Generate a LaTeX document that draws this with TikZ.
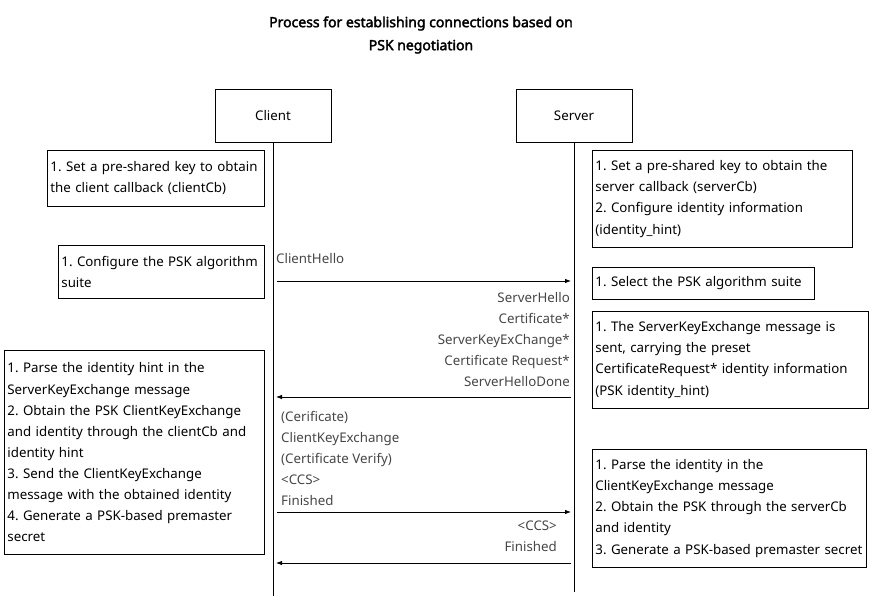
\documentclass[tikz,border=0pt]{standalone}
\usepackage{fontspec}
\setmainfont{Noto Sans}
\newfontfamily\titlefont{Noto Sans}[FakeBold=2.5]
\usetikzlibrary{arrows.meta}
\definecolor{msg}{RGB}{70,70,70}
\newcommand{\fs}{\fontsize{13.3}{21.1}\selectfont\frenchspacing}
\tikzset{
  box/.style={draw, line width=0.8pt, anchor=north west, inner xsep=3pt, inner ysep=0pt, align=left, font=\fs},
  actor/.style={draw, line width=0.8pt, minimum width=116pt, minimum height=53pt, font=\fs},
  lbl/.style={font=\fs, text=msg, inner sep=0pt},
  life/.style={line width=0.8pt},
  msgarrow/.style={line width=0.8pt, -{Latex[length=6pt,width=4.5pt]}}
}
\begin{document}
\begin{tikzpicture}[x=1pt,y=-1pt]
\useasboundingbox (0,0) rectangle (872,596);
\node[font=\titlefont\fontsize{14}{23}\selectfont, align=center] (title) at (421,35) {Process for establishing connections based on\\PSK negotiation};
\node[actor] (client) at (273,115.5) {Client};
\node[actor] (server) at (574,115.5) {Server};
\coordinate (cend) at (273,596);
\coordinate (send) at (574,592);
\draw[life] (client.south) -- (cend);
\draw[life] (server.south) -- (send);

\node[box, text width=211pt, minimum height=56pt] (c1) at (47,150) {1. Set a pre-shared key to obtain\\the client callback (clientCb)};
\node[box, text width=200pt, minimum height=53pt] (c2) at (58,245) {1. Configure the PSK algorithm\\suite};
\node[box, text width=254pt, minimum height=204pt] (c3) at (4,350) {1. Parse the identity hint in the\\ServerKeyExchange message\\2. Obtain the PSK ClientKeyExchange\\and identity through the clientCb and\\identity hint\\3. Send the ClientKeyExchange\\message with the obtained identity\\4. Generate a PSK-based premaster\\secret};

\node[box, text width=254pt, minimum height=97pt] (s1) at (592,150) {1. Set a pre-shared key to obtain the\\server callback (serverCb)\\2. Configure identity information\\(identity\_hint)};
\node[box, text width=216pt, minimum height=32pt] (s2) at (592,267) {1. Select the PSK algorithm suite};
\node[box, text width=270pt, minimum height=97pt] (s3) at (592,311) {1. The ServerKeyExchange message is\\sent, carrying the preset\\CertificateRequest* identity information\\(PSK identity\_hint)};
\node[box, text width=268pt, minimum height=118pt] (s4) at (592,449) {1. Parse the identity in the\\ClientKeyExchange message\\2. Obtain the PSK through the serverCb\\and identity\\3. Generate a PSK-based premaster secret};

\coordinate (a1s) at (277,281); \coordinate (a1e) at (571,281);
\coordinate (a2s) at (571,397); \coordinate (a2e) at (276,397);
\coordinate (a3s) at (277,512); \coordinate (a3e) at (571,512);
\coordinate (a4s) at (571,563); \coordinate (a4e) at (276,563);
\draw[msgarrow] (a1s) -- (a1e);
\draw[msgarrow] (a2s) -- (a2e);
\draw[msgarrow] (a3s) -- (a3e);
\draw[msgarrow] (a4s) -- (a4e);

\node[lbl, anchor=west] (m1) at (276,259) {ClientHello};
\node[lbl, anchor=east, align=right] (m2) at (570,339.5) {ServerHello\\Certificate*\\ServerKeyExChange*\\Certificate Request*\\ServerHelloDone};
\node[lbl, anchor=west, align=left] (m3) at (281,458.5) {(Cerificate)\\ClientKeyExchange\\(Certificate Verify)\\<CCS>\\Finished};
\node[lbl, anchor=east, align=right] (m4) at (557,536.5) {<CCS>\\Finished};
\end{tikzpicture}
\end{document}
